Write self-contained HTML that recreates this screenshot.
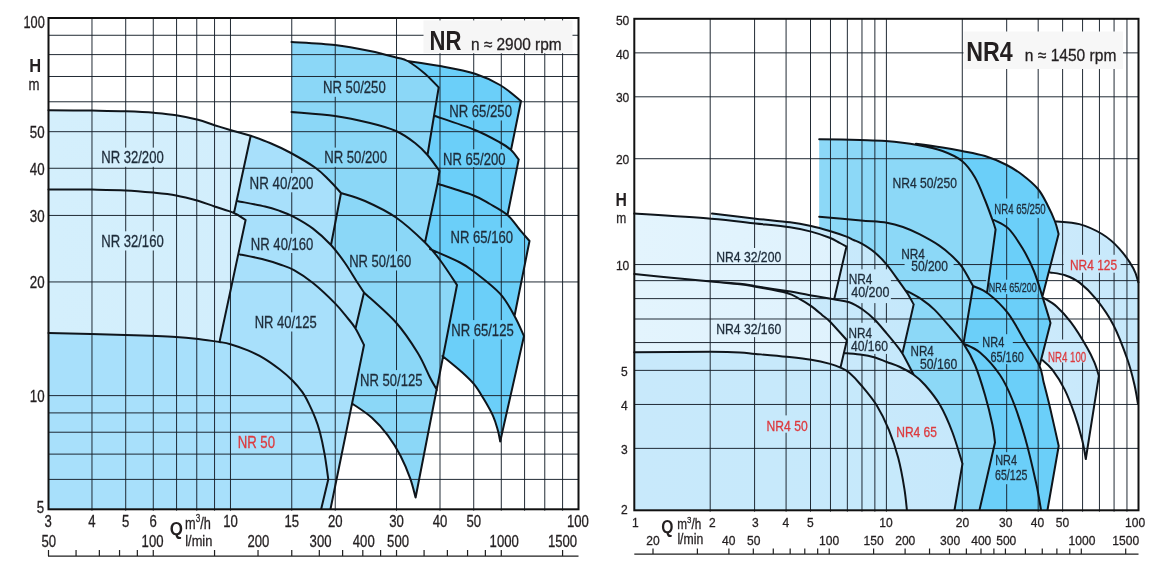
<!DOCTYPE html>
<html><head><meta charset="utf-8"><title>NR / NR4 pump coverage charts</title>
<style>
html,body{margin:0;padding:0;background:#fff;}
body{width:1157px;height:564px;overflow:hidden;}
svg{display:block;font-family:"Liberation Sans",sans-serif;}
</style></head><body>
<svg width="1157" height="564" viewBox="0 0 1157 564">
<rect width="1157" height="564" fill="#fff"/>
<g opacity="0.999">
<defs><linearGradient id="g32" gradientUnits="userSpaceOnUse" x1="48" y1="0" x2="250" y2="0"><stop offset="0" stop-color="#d4effc"/><stop offset="1" stop-color="#d2eefc"/></linearGradient></defs>
<g id="leftchart">
<path d="M400.0 58.0 L407.5 61.0 C412.9 61.8 428.8 63.9 440.0 66.0 C451.2 68.1 465.0 70.5 475.0 73.7 C485.0 76.9 492.3 80.5 500.0 85.0 C507.7 89.5 517.5 98.3 521.0 101.0 L511.0 150.0 C514.1 152.8 517.4 157.9 518.7 159.5 L507.5 215.0 C512.5 219.3 516.3 225.7 520.0 230.0 C523.7 234.3 527.9 239.2 529.5 241.0 L514.5 316.0 C518.5 323.1 522.4 332.7 524.0 336.0 L500.2 441.5 C499.8 439.7 499.1 434.7 497.9 430.5 C496.7 426.3 495.5 421.4 493.1 416.1 C490.7 410.8 486.7 403.9 483.5 398.6 C480.3 393.3 477.7 388.7 474.0 384.2 C470.3 379.7 466.4 376.2 461.2 371.5 C455.9 366.8 445.6 358.6 442.5 356.0 L400.0 300.0Z" fill="#6bcff9"/>
<path d="M291.5 42.0 L291.5 42.0 C298.8 42.5 321.9 43.5 335.0 45.0 C348.1 46.5 359.8 48.9 370.0 51.0 C380.2 53.1 389.8 55.8 396.0 57.5 C402.2 59.2 402.7 58.3 407.5 61.0 C412.3 63.7 419.8 69.3 425.0 73.7 C430.2 78.1 436.4 85.2 438.7 87.5 L427.5 155.0 C431.6 159.7 437.5 168.3 439.5 171.0 L437.5 183.7 L425.0 242.5 C432.3 249.6 434.7 252.9 440.0 260.0 C445.3 267.1 454.2 280.8 457.0 285.0 L415.6 497.5 C414.7 494.3 412.7 485.2 410.2 478.3 C407.7 471.4 404.3 463.2 400.6 456.0 C396.9 448.8 392.6 441.7 387.8 435.3 C383.0 428.9 377.8 423.0 371.9 417.7 C366.0 412.4 355.7 406.0 352.5 403.7 L300.0 300.0 L291.5 300.0Z" fill="#8bd7f7"/>
<path d="M48.5 509.3 L48.5 140.0 L250.7 135.7 C253.9 136.9 263.4 140.2 270.0 143.0 C276.6 145.8 282.5 148.4 290.0 152.5 C297.5 156.6 308.5 162.9 315.0 167.5 C321.5 172.1 324.7 175.8 329.0 180.0 C333.3 184.2 339.0 190.8 341.0 193.0 L331.0 245.0 C336.3 250.7 340.6 256.7 345.0 263.0 C349.4 269.3 354.5 278.1 357.7 283.0 C360.9 287.9 362.9 290.9 364.0 292.5 L355.5 328.5 C358.2 332.9 362.6 342.2 364.0 345.0 L330.5 509.3Z" fill="#a8e0fb"/>
<path d="M48.5 110.2 L48.5 110.2 C55.8 110.3 79.1 110.4 92.0 110.6 C104.9 110.8 115.4 110.9 125.7 111.3 C136.0 111.7 145.4 112.1 153.8 112.8 C162.2 113.5 168.8 114.0 176.2 115.2 C183.6 116.4 191.6 118.1 198.0 119.8 C204.4 121.5 209.0 123.5 214.5 125.2 C220.0 126.9 225.0 128.4 231.0 130.2 C237.0 131.9 247.4 134.8 250.7 135.7 L234.0 213.0 C239.2 215.2 243.7 218.8 245.6 220.0 L219.5 342.0 C214.4 341.2 207.2 340.0 200.0 339.2 C192.8 338.4 188.5 337.7 176.0 337.0 C163.5 336.3 146.2 335.7 125.0 335.0 C103.8 334.3 61.2 333.3 48.5 333.0Z" fill="url(#g32)"/>
<mask id="lmv" maskUnits="userSpaceOnUse" x="40" y="10" width="545" height="505"><rect x="40" y="10" width="545" height="505" fill="#fff"/><rect x="98.2" y="147.6" width="68.5" height="19.2" fill="#000"/><rect x="98.2" y="231.3" width="68.5" height="19.2" fill="#000"/><rect x="246.6" y="173.1" width="69.8" height="19.2" fill="#000"/><rect x="247.8" y="233.8" width="68.6" height="19.2" fill="#000"/><rect x="251.7" y="312.3" width="68.0" height="19.2" fill="#000"/><rect x="234.7" y="433.9" width="43.3" height="17.9" fill="#000"/><rect x="320.0" y="78.1" width="68.7" height="18.7" fill="#000"/><rect x="446.2" y="102.8" width="68.8" height="17.7" fill="#000"/><rect x="321.2" y="147.6" width="68.8" height="19.2" fill="#000"/><rect x="440.8" y="149.3" width="67.7" height="17.7" fill="#000"/><rect x="447.5" y="227.6" width="68.5" height="19.2" fill="#000"/><rect x="346.2" y="251.3" width="68.0" height="19.2" fill="#000"/><rect x="357.0" y="370.1" width="68.5" height="19.2" fill="#000"/><rect x="448.2" y="320.1" width="68.5" height="19.2" fill="#000"/></mask>
<mask id="lmh" maskUnits="userSpaceOnUse" x="40" y="10" width="545" height="505"><rect x="40" y="10" width="545" height="505" fill="#fff"/><rect x="98.2" y="147.6" width="68.5" height="19.2" fill="#000"/><rect x="98.2" y="231.3" width="68.5" height="19.2" fill="#000"/><rect x="246.6" y="173.1" width="69.8" height="19.2" fill="#000"/><rect x="247.8" y="233.8" width="68.6" height="19.2" fill="#000"/><rect x="251.7" y="312.3" width="68.0" height="19.2" fill="#000"/><rect x="234.7" y="433.9" width="43.3" height="17.9" fill="#000"/><rect x="320.0" y="78.1" width="68.7" height="18.7" fill="#000"/><rect x="446.2" y="102.8" width="68.8" height="17.7" fill="#000"/><rect x="321.2" y="147.6" width="68.8" height="19.2" fill="#000"/><rect x="440.8" y="149.3" width="67.7" height="17.7" fill="#000"/><rect x="447.5" y="227.6" width="68.5" height="19.2" fill="#000"/><rect x="346.2" y="251.3" width="68.0" height="19.2" fill="#000"/><rect x="357.0" y="370.1" width="68.5" height="19.2" fill="#000"/><rect x="448.2" y="320.1" width="68.5" height="19.2" fill="#000"/></mask>
<path d="M91.98 18.0V510.7M125.71 18.0V510.7M153.27 18.0V510.7M176.57 18.0V510.7M196.75 18.0V510.7M214.55 18.0V510.7M230.47 18.0V510.7M291.76 18.0V510.7M335.24 18.0V510.7M396.53 18.0V510.7M440.01 18.0V510.7M473.73 18.0V510.7M501.29 18.0V510.7M524.59 18.0V510.7M544.77 18.0V510.7M562.58 18.0V510.7" fill="none" stroke="#16202a" stroke-width="0.95" mask="url(#lmv)"/>
<path d="M48.5 479.40H578.5M48.5 454.12H578.5M48.5 432.22H578.5M48.5 412.90H578.5M48.5 395.62H578.5M48.5 281.95H578.5M48.5 215.45H578.5M48.5 168.27H578.5M48.5 131.68H578.5M48.5 101.78H578.5M48.5 76.49H578.5M48.5 54.60H578.5M48.5 35.28H578.5" fill="none" stroke="#16202a" stroke-width="0.95" mask="url(#lmh)"/>
<path d="M48.5 110.2 C55.8 110.3 79.1 110.4 92.0 110.6 C104.9 110.8 115.4 110.9 125.7 111.3 C136.0 111.7 145.4 112.1 153.8 112.8 C162.2 113.5 168.8 114.0 176.2 115.2 C183.6 116.4 191.6 118.1 198.0 119.8 C204.4 121.5 209.0 123.5 214.5 125.2 C220.0 126.9 225.0 128.4 231.0 130.2 C237.0 131.9 247.4 134.8 250.7 135.7M48.5 189.4 C55.8 189.4 79.1 189.4 92.0 189.6 C104.9 189.8 115.4 189.9 125.7 190.4 C136.0 190.9 145.4 191.8 153.8 192.6 C162.2 193.4 168.8 194.0 176.2 195.4 C183.6 196.8 191.6 199.0 198.0 200.8 C204.4 202.7 208.5 204.5 214.5 206.5 C220.5 208.5 228.8 210.8 234.0 213.0 C239.2 215.2 243.7 218.8 245.6 220.0M48.5 333.0 C61.2 333.3 103.8 334.3 125.0 335.0 C146.2 335.7 163.5 336.3 176.0 337.0 C188.5 337.7 192.8 338.4 200.0 339.2 C207.2 340.0 214.4 341.2 219.5 342.0 C224.6 342.8 225.7 342.8 230.4 344.2 C235.1 345.6 242.3 348.0 247.9 350.4 C253.5 352.8 258.6 355.1 263.9 358.3 C269.2 361.5 275.1 365.8 279.9 369.5 C284.7 373.2 289.0 377.0 292.7 380.7 C296.4 384.4 299.5 388.2 302.2 391.9 C304.9 395.6 306.5 398.9 308.6 403.1 C310.7 407.4 313.1 412.6 315.0 417.4 C316.9 422.2 318.2 425.7 319.8 431.8 C321.4 437.9 323.2 446.3 324.6 454.2 C326.0 462.1 327.7 475.1 328.3 479.3M250.7 135.7 C253.9 136.9 263.4 140.2 270.0 143.0 C276.6 145.8 282.5 148.4 290.0 152.5 C297.5 156.6 308.5 162.9 315.0 167.5 C321.5 172.1 324.7 175.8 329.0 180.0 C333.3 184.2 339.0 190.8 341.0 193.0M238.2 201.2 C242.7 202.1 258.0 204.9 265.0 206.5 C272.0 208.1 275.2 209.3 280.0 211.0 C284.8 212.7 288.3 213.9 293.8 216.8 C299.3 219.7 306.8 223.9 313.0 228.6 C319.2 233.3 325.7 239.3 331.0 245.0 C336.3 250.7 340.6 256.7 345.0 263.0 C349.4 269.3 354.5 278.1 357.7 283.0 C360.9 287.9 362.9 290.9 364.0 292.5M240.0 254.5 C243.7 255.2 255.3 257.3 262.0 259.0 C268.7 260.7 274.7 262.6 280.0 264.5 C285.3 266.4 288.5 267.1 294.0 270.2 C299.5 273.3 306.1 277.4 313.0 283.0 C319.9 288.6 329.5 297.7 335.3 303.6 C341.1 309.5 344.6 314.4 348.0 318.5 C351.4 322.6 352.8 324.1 355.5 328.5 C358.2 332.9 362.6 342.2 364.0 345.0M291.5 42.0 C298.8 42.5 321.9 43.5 335.0 45.0 C348.1 46.5 359.8 48.9 370.0 51.0 C380.2 53.1 389.8 55.8 396.0 57.5 C402.2 59.2 402.7 58.3 407.5 61.0 C412.3 63.7 419.8 69.3 425.0 73.7 C430.2 78.1 436.4 85.2 438.7 87.5M291.5 112.0 C298.8 112.7 321.9 114.2 335.0 116.0 C348.1 117.8 359.8 120.5 370.0 123.0 C380.2 125.5 388.5 127.7 396.0 131.0 C403.5 134.3 409.8 139.0 415.0 143.0 C420.2 147.0 423.4 150.3 427.5 155.0 C431.6 159.7 437.5 168.3 439.5 171.0M341.0 193.0 C345.0 194.3 355.8 196.9 365.0 201.0 C374.2 205.1 386.0 210.6 396.0 217.5 C406.0 224.4 417.7 235.4 425.0 242.5 C432.3 249.6 434.7 252.9 440.0 260.0 C445.3 267.1 454.2 280.8 457.0 285.0M364.0 292.5 C369.3 297.5 387.1 312.5 396.0 322.5 C404.9 332.5 411.8 343.3 417.5 352.5 C423.2 361.7 426.8 371.2 430.0 377.5 C433.2 383.8 435.8 387.9 437.0 390.0M352.5 403.7 C355.7 406.0 366.0 412.4 371.9 417.7 C377.8 423.0 383.0 428.9 387.8 435.3 C392.6 441.7 396.9 448.8 400.6 456.0 C404.3 463.2 407.7 471.4 410.2 478.3 C412.7 485.2 414.7 494.3 415.6 497.5M407.5 61.0 C412.9 61.8 428.8 63.9 440.0 66.0 C451.2 68.1 465.0 70.5 475.0 73.7 C485.0 76.9 492.3 80.5 500.0 85.0 C507.7 89.5 517.5 98.3 521.0 101.0M435.0 116.0 C441.7 118.3 464.2 125.6 475.0 130.0 C485.8 134.4 494.0 139.2 500.0 142.5 C506.0 145.8 507.9 147.2 511.0 150.0 C514.1 152.8 517.4 157.9 518.7 159.5M437.5 183.7 C443.3 185.6 463.8 191.6 472.5 195.0 C481.2 198.4 484.2 200.7 490.0 204.0 C495.8 207.3 502.5 210.7 507.5 215.0 C512.5 219.3 516.3 225.7 520.0 230.0 C523.7 234.3 527.9 239.2 529.5 241.0M430.0 249.0 C435.0 251.2 452.5 258.6 460.0 262.5 C467.5 266.4 468.3 267.3 475.0 272.5 C481.7 277.7 493.4 286.4 500.0 293.7 C506.6 300.9 510.5 308.9 514.5 316.0 C518.5 323.1 522.4 332.7 524.0 336.0M442.5 356.0 C445.6 358.6 455.9 366.8 461.2 371.5 C466.4 376.2 470.3 379.7 474.0 384.2 C477.7 388.7 480.3 393.3 483.5 398.6 C486.7 403.9 490.7 410.8 493.1 416.1 C495.5 421.4 496.7 426.3 497.9 430.5 C499.1 434.7 499.8 439.7 500.2 441.5M250.7 135.7 L234.0 213.0M245.6 220.0 L219.5 342.0M328.3 479.3 L321.2 509.0M341.0 193.0 L331.0 245.0M364.0 292.5 L355.5 328.5M364.0 345.0 L330.5 509.0M438.7 87.5 L427.5 155.0M439.5 171.0 L437.5 183.7M437.5 183.7 L425.0 242.5M457.0 285.0 L415.6 497.5M521.0 101.0 L511.0 150.0M518.7 159.5 L507.5 215.0M529.5 241.0 L514.5 316.0M524.0 336.0 L500.2 441.5" fill="none" stroke="#0f151b" stroke-width="2" stroke-linejoin="round" stroke-linecap="round"/>
<rect x="423.5" y="20.4" width="149" height="32.8" fill="#f6f6f6"/>
<text x="429.6" y="49.6" font-size="27.0" fill="#231f20" font-weight="bold" textLength="31.9" lengthAdjust="spacingAndGlyphs">NR</text>
<text x="470.9" y="49.6" font-size="16.5" fill="#231f20" font-weight="normal" textLength="90.8" lengthAdjust="spacingAndGlyphs" stroke="#231f20" stroke-width="0.3">n ≈ 2900 rpm</text>
<rect x="48.5" y="18.0" width="530.0" height="491.3" fill="none" stroke="#111" stroke-width="2"/>
<text x="101.2" y="163.3" font-size="16.3" fill="#1e2c3a" font-weight="normal" textLength="62.5" lengthAdjust="spacingAndGlyphs" stroke="#1e2c3a" stroke-width="0.3">NR 32/200</text>
<text x="101.2" y="247.0" font-size="16.3" fill="#1e2c3a" font-weight="normal" textLength="62.5" lengthAdjust="spacingAndGlyphs" stroke="#1e2c3a" stroke-width="0.3">NR 32/160</text>
<text x="249.6" y="188.8" font-size="16.3" fill="#1e2c3a" font-weight="normal" textLength="63.8" lengthAdjust="spacingAndGlyphs" stroke="#1e2c3a" stroke-width="0.3">NR 40/200</text>
<text x="250.8" y="249.5" font-size="16.3" fill="#1e2c3a" font-weight="normal" textLength="62.6" lengthAdjust="spacingAndGlyphs" stroke="#1e2c3a" stroke-width="0.3">NR 40/160</text>
<text x="254.7" y="328.0" font-size="16.3" fill="#1e2c3a" font-weight="normal" textLength="62.0" lengthAdjust="spacingAndGlyphs" stroke="#1e2c3a" stroke-width="0.3">NR 40/125</text>
<text x="237.7" y="448.3" font-size="16.3" fill="#dd3a3e" font-weight="normal" textLength="37.3" lengthAdjust="spacingAndGlyphs" stroke="#dd3a3e" stroke-width="0.3">NR 50</text>
<text x="323.0" y="93.3" font-size="16.3" fill="#1e2c3a" font-weight="normal" textLength="62.7" lengthAdjust="spacingAndGlyphs" stroke="#1e2c3a" stroke-width="0.3">NR 50/250</text>
<text x="449.2" y="117.0" font-size="16.3" fill="#1e2c3a" font-weight="normal" textLength="62.8" lengthAdjust="spacingAndGlyphs" stroke="#1e2c3a" stroke-width="0.3">NR 65/250</text>
<text x="324.2" y="163.3" font-size="16.3" fill="#1e2c3a" font-weight="normal" textLength="62.8" lengthAdjust="spacingAndGlyphs" stroke="#1e2c3a" stroke-width="0.3">NR 50/200</text>
<text x="443.0" y="165.0" font-size="16.3" fill="#1e2c3a" font-weight="normal" textLength="62.5" lengthAdjust="spacingAndGlyphs" stroke="#1e2c3a" stroke-width="0.3">NR 65/200</text>
<text x="450.5" y="243.3" font-size="16.3" fill="#1e2c3a" font-weight="normal" textLength="62.5" lengthAdjust="spacingAndGlyphs" stroke="#1e2c3a" stroke-width="0.3">NR 65/160</text>
<text x="349.2" y="267.0" font-size="16.3" fill="#1e2c3a" font-weight="normal" textLength="62.0" lengthAdjust="spacingAndGlyphs" stroke="#1e2c3a" stroke-width="0.3">NR 50/160</text>
<text x="360.0" y="385.8" font-size="16.3" fill="#1e2c3a" font-weight="normal" textLength="62.5" lengthAdjust="spacingAndGlyphs" stroke="#1e2c3a" stroke-width="0.3">NR 50/125</text>
<text x="451.2" y="335.8" font-size="16.3" fill="#1e2c3a" font-weight="normal" textLength="62.5" lengthAdjust="spacingAndGlyphs" stroke="#1e2c3a" stroke-width="0.3">NR 65/125</text>
<text x="23.5" y="27.6" font-size="15.7" fill="#231f20" font-weight="normal" textLength="21.3" lengthAdjust="spacingAndGlyphs" stroke="#231f20" stroke-width="0.3">100</text>
<text x="29.8" y="137.9" font-size="15.7" fill="#231f20" font-weight="normal" textLength="14.8" lengthAdjust="spacingAndGlyphs" stroke="#231f20" stroke-width="0.3">50</text>
<text x="29.8" y="174.5" font-size="15.7" fill="#231f20" font-weight="normal" textLength="14.8" lengthAdjust="spacingAndGlyphs" stroke="#231f20" stroke-width="0.3">40</text>
<text x="29.8" y="221.7" font-size="15.7" fill="#231f20" font-weight="normal" textLength="14.8" lengthAdjust="spacingAndGlyphs" stroke="#231f20" stroke-width="0.3">30</text>
<text x="29.8" y="288.1" font-size="15.7" fill="#231f20" font-weight="normal" textLength="14.8" lengthAdjust="spacingAndGlyphs" stroke="#231f20" stroke-width="0.3">20</text>
<text x="29.8" y="401.8" font-size="15.7" fill="#231f20" font-weight="normal" textLength="14.8" lengthAdjust="spacingAndGlyphs" stroke="#231f20" stroke-width="0.3">10</text>
<text x="36.8" y="513.0" font-size="15.7" fill="#231f20" font-weight="normal" textLength="7.4" lengthAdjust="spacingAndGlyphs" stroke="#231f20" stroke-width="0.3">5</text>
<text x="29.3" y="71.8" font-size="18.0" fill="#231f20" font-weight="bold" textLength="11.9" lengthAdjust="spacingAndGlyphs">H</text>
<text x="28.6" y="90.3" font-size="15.7" fill="#231f20" font-weight="normal" textLength="11.0" lengthAdjust="spacingAndGlyphs" stroke="#231f20" stroke-width="0.3">m</text>
<text x="44.4" y="526.7" font-size="15.7" fill="#231f20" font-weight="normal" textLength="7.3" lengthAdjust="spacingAndGlyphs" stroke="#231f20" stroke-width="0.3">3</text>
<text x="88.3" y="526.7" font-size="15.7" fill="#231f20" font-weight="normal" textLength="7.3" lengthAdjust="spacingAndGlyphs" stroke="#231f20" stroke-width="0.3">4</text>
<text x="122.1" y="526.7" font-size="15.7" fill="#231f20" font-weight="normal" textLength="7.3" lengthAdjust="spacingAndGlyphs" stroke="#231f20" stroke-width="0.3">5</text>
<text x="149.6" y="526.7" font-size="15.7" fill="#231f20" font-weight="normal" textLength="7.3" lengthAdjust="spacingAndGlyphs" stroke="#231f20" stroke-width="0.3">6</text>
<text x="223.2" y="526.7" font-size="15.7" fill="#231f20" font-weight="normal" textLength="14.6" lengthAdjust="spacingAndGlyphs" stroke="#231f20" stroke-width="0.3">10</text>
<text x="284.5" y="526.7" font-size="15.7" fill="#231f20" font-weight="normal" textLength="14.6" lengthAdjust="spacingAndGlyphs" stroke="#231f20" stroke-width="0.3">15</text>
<text x="327.9" y="526.7" font-size="15.7" fill="#231f20" font-weight="normal" textLength="14.6" lengthAdjust="spacingAndGlyphs" stroke="#231f20" stroke-width="0.3">20</text>
<text x="389.2" y="526.7" font-size="15.7" fill="#231f20" font-weight="normal" textLength="14.6" lengthAdjust="spacingAndGlyphs" stroke="#231f20" stroke-width="0.3">30</text>
<text x="432.7" y="526.7" font-size="15.7" fill="#231f20" font-weight="normal" textLength="14.6" lengthAdjust="spacingAndGlyphs" stroke="#231f20" stroke-width="0.3">40</text>
<text x="466.4" y="526.7" font-size="15.7" fill="#231f20" font-weight="normal" textLength="14.6" lengthAdjust="spacingAndGlyphs" stroke="#231f20" stroke-width="0.3">50</text>
<text x="567.0" y="526.7" font-size="15.7" fill="#231f20" font-weight="normal" textLength="21.9" lengthAdjust="spacingAndGlyphs" stroke="#231f20" stroke-width="0.3">100</text>
<text x="41.4" y="547.0" font-size="15.7" fill="#231f20" font-weight="normal" textLength="14.6" lengthAdjust="spacingAndGlyphs" stroke="#231f20" stroke-width="0.3">50</text>
<text x="141.6" y="547.0" font-size="15.7" fill="#231f20" font-weight="normal" textLength="21.9" lengthAdjust="spacingAndGlyphs" stroke="#231f20" stroke-width="0.3">100</text>
<text x="247.4" y="547.0" font-size="15.7" fill="#231f20" font-weight="normal" textLength="21.9" lengthAdjust="spacingAndGlyphs" stroke="#231f20" stroke-width="0.3">200</text>
<text x="309.6" y="547.0" font-size="15.7" fill="#231f20" font-weight="normal" textLength="21.9" lengthAdjust="spacingAndGlyphs" stroke="#231f20" stroke-width="0.3">300</text>
<text x="352.8" y="547.0" font-size="15.7" fill="#231f20" font-weight="normal" textLength="21.9" lengthAdjust="spacingAndGlyphs" stroke="#231f20" stroke-width="0.3">400</text>
<text x="387.1" y="547.0" font-size="15.7" fill="#231f20" font-weight="normal" textLength="21.9" lengthAdjust="spacingAndGlyphs" stroke="#231f20" stroke-width="0.3">500</text>
<text x="489.6" y="547.0" font-size="15.7" fill="#231f20" font-weight="normal" textLength="29.2" lengthAdjust="spacingAndGlyphs" stroke="#231f20" stroke-width="0.3">1000</text>
<text x="547.9" y="547.0" font-size="15.7" fill="#231f20" font-weight="normal" textLength="29.2" lengthAdjust="spacingAndGlyphs" stroke="#231f20" stroke-width="0.3">1500</text>
<text x="169.8" y="534.5" font-size="18.5" fill="#231f20" font-weight="bold" textLength="13.2" lengthAdjust="spacingAndGlyphs">Q</text>
<text x="185" y="528.6" font-size="16.5" fill="#231f20" stroke="#231f20" stroke-width="0.3" textLength="25.8" lengthAdjust="spacingAndGlyphs">m<tspan font-size="10.5" dy="-6.2">3</tspan><tspan dy="6.2">/h</tspan></text>
<text x="185.2" y="545.6" font-size="14.8" fill="#231f20" font-weight="normal" textLength="27.2" lengthAdjust="spacingAndGlyphs" stroke="#231f20" stroke-width="0.3">l/min</text>
<path d="M48.0 556.2H578.5M48.50 550V556.2M76.06 550V556.2M99.36 550V556.2M119.54 550V556.2M137.34 550V556.2M153.27 550V556.2M214.55 550V556.2M258.03 550V556.2M291.76 550V556.2M319.32 550V556.2M342.62 550V556.2M362.80 550V556.2M380.60 550V556.2M396.53 550V556.2M424.08 550V556.2M447.38 550V556.2M467.56 550V556.2M485.37 550V556.2M501.29 550V556.2M562.58 550V556.2" fill="none" stroke="#1f1f1f" stroke-width="1.2"/>
</g>
<defs><linearGradient id="r32" gradientUnits="userSpaceOnUse" x1="634" y1="0" x2="847" y2="0"><stop offset="0" stop-color="#e3f4fd"/><stop offset="1" stop-color="#dff2fd"/></linearGradient><linearGradient id="r40" gradientUnits="userSpaceOnUse" x1="760" y1="0" x2="913" y2="0"><stop offset="0" stop-color="#cbeafb"/><stop offset="1" stop-color="#c5e8fb"/></linearGradient><linearGradient id="r50r" gradientUnits="userSpaceOnUse" x1="634" y1="0" x2="906" y2="0"><stop offset="0" stop-color="#c8e9fb"/><stop offset="1" stop-color="#c6e9fb"/></linearGradient><linearGradient id="r65r" gradientUnits="userSpaceOnUse" x1="845" y1="0" x2="962" y2="0"><stop offset="0" stop-color="#c9e9fb"/><stop offset="1" stop-color="#c6e8fb"/></linearGradient><linearGradient id="r125" gradientUnits="userSpaceOnUse" x1="1050" y1="0" x2="1138" y2="0"><stop offset="0" stop-color="#cceafb"/><stop offset="1" stop-color="#c6e8fb"/></linearGradient><linearGradient id="r100" gradientUnits="userSpaceOnUse" x1="1042" y1="0" x2="1099" y2="0"><stop offset="0" stop-color="#cceafb"/><stop offset="1" stop-color="#c7e8fb"/></linearGradient></defs>
<g id="rightchart">
<path d="M1055.2 221.3 L1055.2 221.3 C1059.2 221.8 1071.5 222.0 1079.3 224.1 C1087.1 226.2 1095.4 230.0 1102.0 234.0 C1108.6 238.0 1113.8 242.6 1119.0 248.3 C1124.2 254.0 1130.1 262.5 1133.3 268.2 C1136.5 273.9 1137.6 280.0 1138.4 282.4 L1138.5 404.0 L1138.0 404.0 C1137.4 400.8 1136.2 392.3 1134.5 385.0 C1132.8 377.7 1131.1 370.0 1127.6 360.0 C1124.1 350.0 1118.6 335.1 1113.4 325.0 C1108.2 314.9 1102.1 306.5 1096.4 299.4 C1090.7 292.3 1084.5 286.4 1079.3 282.4 C1074.1 278.4 1069.9 277.0 1065.1 275.3 C1060.3 273.6 1052.8 272.9 1050.3 272.4Z" fill="url(#r125)"/>
<path d="M1043.8 298.0 L1043.8 298.0 C1045.9 299.4 1052.1 302.5 1056.6 306.5 C1061.1 310.5 1065.7 315.4 1070.8 322.2 C1075.9 329.0 1083.1 340.7 1087.0 347.4 C1090.9 354.1 1092.4 357.6 1094.4 362.3 C1096.4 367.1 1098.2 373.6 1098.9 375.9 L1085.8 459.0 C1085.2 455.7 1083.9 446.6 1082.0 439.2 C1080.1 431.8 1077.5 422.7 1074.6 414.4 C1071.7 406.1 1068.4 397.1 1064.7 389.6 C1061.0 382.2 1056.0 374.6 1052.3 369.7 C1048.6 364.8 1044.0 361.6 1042.3 360.0Z" fill="url(#r100)"/>
<path d="M916.0 143.7 L916.0 143.7 C920.4 144.3 934.8 146.3 942.5 147.5 C950.2 148.7 954.9 149.6 962.0 151.0 C969.1 152.4 977.5 153.7 985.0 156.0 C992.5 158.3 1000.5 161.8 1006.7 165.0 C1013.0 168.2 1017.3 171.0 1022.5 175.0 C1027.7 179.0 1033.8 184.0 1038.0 189.0 C1042.2 194.0 1044.7 199.6 1047.5 205.0 C1050.3 210.4 1053.2 216.7 1055.0 221.5 C1056.8 226.3 1058.0 231.9 1058.6 234.0 L1042.4 296.6 C1045.2 305.3 1049.2 318.6 1050.5 323.0 L1039.5 366.0 C1042.6 372.8 1042.0 375.6 1043.7 382.5 C1045.5 389.4 1047.5 396.9 1050.0 407.5 C1052.5 418.1 1057.2 439.6 1058.7 446.0 L1047.5 510.3 L960.0 510.3 L960.0 200.0Z" fill="#6bcff9"/>
<path d="M819.2 139.2 L819.2 139.2 C826.0 139.3 848.9 139.7 860.0 140.0 C871.1 140.3 876.1 140.2 885.7 141.0 C895.3 141.8 908.0 143.3 917.5 145.0 C927.0 146.7 935.1 148.3 942.5 151.0 C949.9 153.7 956.6 156.6 962.0 161.0 C967.4 165.4 971.2 171.0 975.0 177.5 C978.8 184.0 982.1 192.9 985.0 200.0 C987.9 207.1 990.7 215.1 992.5 220.0 C994.3 224.9 995.1 227.9 995.6 229.5 L987.0 293.0 L988.4 293.7 C982.5 289.1 975.6 287.3 973.1 286.0 L963.5 343.6 C967.7 349.9 971.4 356.4 975.0 365.0 C978.6 373.6 982.1 385.0 985.0 395.0 C987.9 405.0 990.8 417.1 992.5 425.0 C994.2 432.9 994.6 439.6 995.0 442.5 L979.5 510.3 L870.0 510.3 L870.0 262.0 L819.2 232.0Z" fill="#8cd8f7"/>
<path d="M840.5 367.6 L844.4 353.0 C847.0 353.2 854.9 353.8 860.0 354.5 C865.1 355.2 870.5 356.2 875.0 357.5 C879.5 358.8 882.6 360.4 886.8 362.0 C891.0 363.6 895.5 364.9 900.0 367.0 C904.5 369.1 909.5 371.8 913.7 374.8 C917.9 377.8 920.6 380.0 925.0 385.0 C929.4 390.0 935.4 397.1 940.0 405.0 C944.6 412.9 948.8 422.7 952.5 432.5 C956.2 442.3 960.8 458.5 962.5 463.7 L954.5 510.3 L840.5 510.3Z" fill="url(#r65r)"/>
<path d="M634.3 352.3 L634.3 352.3 C647.1 352.2 693.4 351.8 711.0 351.8 C728.6 351.8 732.6 352.0 740.0 352.4 C747.4 352.8 747.8 353.2 755.6 353.9 C763.4 354.6 777.5 355.8 786.8 356.8 C796.1 357.8 804.0 358.6 811.2 359.8 C818.4 361.0 825.2 362.6 830.1 363.9 C835.0 365.2 837.3 366.1 840.5 367.6 C843.7 369.1 845.9 369.9 849.3 372.8 C852.7 375.7 856.5 379.6 861.0 385.0 C865.5 390.4 871.9 397.6 876.5 405.1 C881.1 412.6 885.3 421.1 888.9 429.9 C892.5 438.7 895.6 448.0 898.2 457.8 C900.8 467.6 903.0 480.1 904.4 488.8 C905.8 497.5 906.5 506.5 906.9 510.0 L634.3 510.3Z" fill="url(#r50r)"/>
<path d="M712.0 213.6 L712.0 213.6 C719.3 214.4 742.7 217.2 755.7 218.7 C768.7 220.1 780.8 221.1 790.0 222.3 C799.2 223.5 804.4 224.6 811.0 226.0 C817.6 227.4 823.8 229.2 829.7 231.0 C835.6 232.8 842.5 235.1 846.5 236.6 C850.5 238.1 851.1 238.9 853.6 240.0 C856.1 241.1 857.8 241.4 861.3 243.4 C864.8 245.4 870.3 248.7 874.5 252.2 C878.7 255.7 882.3 259.3 886.5 264.3 C890.7 269.3 896.2 277.4 899.6 282.2 C903.0 286.9 904.6 289.1 907.0 292.8 C909.4 296.5 912.6 302.5 913.7 304.4 L902.4 353.5 C905.5 358.7 911.8 371.2 913.7 374.8 L913.7 374.8 C909.5 371.8 904.5 369.1 900.0 367.0 C895.5 364.9 891.0 363.6 886.8 362.0 C882.6 360.4 879.5 358.8 875.0 357.5 C870.5 356.2 865.1 355.2 860.0 354.5 C854.9 353.8 847.0 353.2 844.4 353.0 L711.0 330.0Z" fill="url(#r40)"/>
<path d="M634.3 213.6 L634.3 213.6 C647.1 214.4 690.8 217.0 711.0 218.7 C731.2 220.3 742.5 222.1 755.7 223.5 C768.9 224.9 780.8 226.0 790.0 227.3 C799.2 228.7 804.5 229.8 811.1 231.6 C817.7 233.3 825.0 235.9 829.7 237.8 C834.5 239.7 836.8 241.4 839.6 242.8 C842.4 244.2 845.4 245.9 846.5 246.5 L833.7 299.3 C827.4 298.2 819.0 296.8 811.2 295.4 C803.4 294.0 796.1 292.6 786.8 291.1 C777.5 289.6 763.4 287.4 755.6 286.2 L755.6 286.8 C763.4 288.3 779.6 291.1 786.8 293.0 C793.9 294.9 794.4 296.1 798.5 298.3 C802.6 300.5 807.3 303.3 811.2 306.1 C815.1 308.9 818.9 312.3 822.0 314.9 C825.1 317.5 826.0 317.5 830.1 321.7 C834.2 325.9 844.1 337.1 846.9 340.2 L840.5 367.6 C837.3 366.1 835.0 365.2 830.1 363.9 C825.2 362.6 818.4 361.0 811.2 359.8 C804.0 358.6 796.1 357.8 786.8 356.8 C777.5 355.8 763.4 354.6 755.6 353.9 C747.8 353.2 747.4 352.8 740.0 352.4 C732.6 352.0 728.6 351.8 711.0 351.8 C693.4 351.8 647.1 352.2 634.3 352.3Z" fill="url(#r32)"/>
<mask id="rmv" maskUnits="userSpaceOnUse" x="625" y="10" width="520" height="505"><rect x="625" y="10" width="520" height="505" fill="#fff"/><rect x="713.2" y="248.0" width="71.0" height="15.6" fill="#000"/><rect x="713.2" y="319.9" width="71.0" height="17.2" fill="#000"/><rect x="848.2" y="269.3" width="42.7" height="20.8" fill="#000"/><rect x="848.2" y="282.5" width="42.7" height="20.6" fill="#000"/><rect x="848.2" y="322.8" width="42.1" height="21.1" fill="#000"/><rect x="848.2" y="336.5" width="42.1" height="17.4" fill="#000"/><rect x="909.5" y="343.2" width="25.3" height="13.6" fill="#000"/><rect x="919.0" y="356.1" width="39.3" height="13.6" fill="#000"/><rect x="978.6" y="334.2" width="34.2" height="15.1" fill="#000"/><rect x="987.5" y="349.0" width="39.2" height="15.1" fill="#000"/><rect x="1045.0" y="339.5" width="44.2" height="22.9" fill="#000"/><rect x="893.2" y="423.0" width="46.8" height="17.9" fill="#000"/><rect x="763.6" y="415.4" width="46.1" height="17.3" fill="#000"/><rect x="992.2" y="452.2" width="27.8" height="16.1" fill="#000"/><rect x="992.0" y="466.3" width="38.5" height="17.9" fill="#000"/><rect x="889.5" y="173.5" width="70.5" height="17.9" fill="#000"/><rect x="991.2" y="198.5" width="57.5" height="19.4" fill="#000"/><rect x="899.2" y="245.5" width="27.8" height="15.1" fill="#000"/><rect x="904.6" y="257.8" width="49.0" height="15.1" fill="#000"/><rect x="986.2" y="279.7" width="51.5" height="14.4" fill="#000"/><rect x="1063.7" y="254.8" width="56.9" height="17.9" fill="#000"/></mask>
<mask id="rmh" maskUnits="userSpaceOnUse" x="625" y="10" width="520" height="505"><rect x="625" y="10" width="520" height="505" fill="#fff"/><rect x="713.2" y="248.0" width="71.0" height="15.6" fill="#000"/><rect x="713.2" y="319.9" width="71.0" height="17.2" fill="#000"/><rect x="848.2" y="269.3" width="42.7" height="20.8" fill="#000"/><rect x="848.2" y="282.5" width="42.7" height="20.6" fill="#000"/><rect x="848.2" y="322.8" width="42.1" height="21.1" fill="#000"/><rect x="848.2" y="336.5" width="42.1" height="17.4" fill="#000"/><rect x="909.5" y="343.2" width="25.3" height="13.6" fill="#000"/><rect x="919.0" y="356.1" width="39.3" height="13.6" fill="#000"/><rect x="978.6" y="334.2" width="34.2" height="15.1" fill="#000"/><rect x="987.5" y="349.0" width="39.2" height="15.1" fill="#000"/><rect x="1045.0" y="347.5" width="44.2" height="16.6" fill="#000"/><rect x="893.2" y="423.0" width="46.8" height="17.9" fill="#000"/><rect x="763.6" y="415.4" width="46.1" height="17.3" fill="#000"/><rect x="992.2" y="452.2" width="27.8" height="16.1" fill="#000"/><rect x="992.0" y="466.3" width="38.5" height="17.9" fill="#000"/><rect x="889.5" y="173.5" width="70.5" height="17.9" fill="#000"/><rect x="991.2" y="198.5" width="57.5" height="19.4" fill="#000"/><rect x="899.2" y="245.5" width="27.8" height="15.1" fill="#000"/><rect x="904.6" y="257.8" width="49.0" height="15.1" fill="#000"/><rect x="986.2" y="279.7" width="51.5" height="14.4" fill="#000"/><rect x="1063.7" y="254.8" width="56.9" height="17.9" fill="#000"/></mask>
<path d="M710.19 18.8V511.7M754.58 18.8V511.7M786.08 18.8V511.7M810.51 18.8V511.7M830.47 18.8V511.7M847.35 18.8V511.7M861.97 18.8V511.7M874.86 18.8V511.7M886.40 18.8V511.7M962.29 18.8V511.7M1006.68 18.8V511.7M1038.18 18.8V511.7M1062.61 18.8V511.7M1082.57 18.8V511.7M1099.45 18.8V511.7M1114.07 18.8V511.7M1126.96 18.8V511.7" fill="none" stroke="#16202a" stroke-width="0.95" mask="url(#rmv)"/>
<path d="M634.3 448.39H1138.5M634.3 404.46H1138.5M634.3 370.39H1138.5M634.3 342.55H1138.5M634.3 319.01H1138.5M634.3 298.62H1138.5M634.3 280.64H1138.5M634.3 264.55H1138.5M634.3 158.71H1138.5M634.3 96.80H1138.5M634.3 52.87H1138.5" fill="none" stroke="#16202a" stroke-width="0.95" mask="url(#rmh)"/>
<path d="M819.2 139.2 C826.0 139.3 848.9 139.7 860.0 140.0 C871.1 140.3 876.1 140.2 885.7 141.0 C895.3 141.8 908.0 143.3 917.5 145.0 C927.0 146.7 935.1 148.3 942.5 151.0 C949.9 153.7 956.6 156.6 962.0 161.0 C967.4 165.4 971.2 171.0 975.0 177.5 C978.8 184.0 982.1 192.9 985.0 200.0 C987.9 207.1 990.7 215.1 992.5 220.0 C994.3 224.9 995.1 227.9 995.6 229.5M819.2 216.7 C826.2 217.3 849.7 219.5 861.0 220.5 C872.3 221.5 879.8 221.7 886.8 222.8 C893.8 223.9 897.6 225.1 903.0 227.0 C908.4 228.9 913.4 231.1 919.4 234.2 C925.4 237.3 933.9 242.0 939.3 245.6 C944.7 249.2 948.2 252.4 952.0 256.0 C955.8 259.6 958.5 261.9 962.0 266.9 C965.5 271.9 971.2 282.8 973.1 286.0M916.0 143.7 C920.4 144.3 934.8 146.3 942.5 147.5 C950.2 148.7 954.9 149.6 962.0 151.0 C969.1 152.4 977.5 153.7 985.0 156.0 C992.5 158.3 1000.5 161.8 1006.7 165.0 C1013.0 168.2 1017.3 171.0 1022.5 175.0 C1027.7 179.0 1033.8 184.0 1038.0 189.0 C1042.2 194.0 1044.7 199.6 1047.5 205.0 C1050.3 210.4 1053.2 216.7 1055.0 221.5 C1056.8 226.3 1058.0 231.9 1058.6 234.0M994.0 220.0 C996.4 221.4 1003.5 223.7 1008.3 228.4 C1013.0 233.1 1018.2 241.2 1022.5 248.3 C1026.8 255.4 1030.6 262.9 1033.9 271.0 C1037.2 279.1 1039.6 287.9 1042.4 296.6 C1045.2 305.3 1049.2 318.6 1050.5 323.0M973.1 286.0 C975.6 287.3 982.5 289.1 988.4 293.7 C994.3 298.3 1002.1 305.6 1008.3 313.6 C1014.4 321.7 1020.1 333.3 1025.3 342.0 C1030.5 350.7 1036.4 359.2 1039.5 366.0 C1042.6 372.8 1042.0 375.6 1043.7 382.5 C1045.5 389.4 1047.5 396.9 1050.0 407.5 C1052.5 418.1 1057.2 439.6 1058.7 446.0M905.0 290.0 C907.8 291.6 917.1 296.3 922.0 299.6 C926.9 302.9 929.7 305.0 934.4 309.6 C939.1 314.2 945.1 321.3 950.0 327.0 C954.9 332.7 959.3 337.3 963.5 343.6 C967.7 349.9 971.4 356.4 975.0 365.0 C978.6 373.6 982.1 385.0 985.0 395.0 C987.9 405.0 990.8 417.1 992.5 425.0 C994.2 432.9 994.6 439.6 995.0 442.5M963.5 343.6 C966.2 345.1 973.9 347.3 980.0 352.5 C986.1 357.7 994.6 367.1 1000.0 375.0 C1005.4 382.9 1008.3 389.6 1012.5 400.0 C1016.7 410.4 1021.1 423.8 1025.0 437.5 C1028.9 451.2 1033.3 470.4 1036.0 482.5 C1038.7 494.6 1040.2 505.4 1041.0 510.0M844.4 353.0 C847.0 353.2 854.9 353.8 860.0 354.5 C865.1 355.2 870.5 356.2 875.0 357.5 C879.5 358.8 882.6 360.4 886.8 362.0 C891.0 363.6 895.5 364.9 900.0 367.0 C904.5 369.1 909.5 371.8 913.7 374.8 C917.9 377.8 920.6 380.0 925.0 385.0 C929.4 390.0 935.4 397.1 940.0 405.0 C944.6 412.9 948.8 422.7 952.5 432.5 C956.2 442.3 960.8 458.5 962.5 463.7M634.3 352.3 C647.1 352.2 693.4 351.8 711.0 351.8 C728.6 351.8 732.6 352.0 740.0 352.4 C747.4 352.8 747.8 353.2 755.6 353.9 C763.4 354.6 777.5 355.8 786.8 356.8 C796.1 357.8 804.0 358.6 811.2 359.8 C818.4 361.0 825.2 362.6 830.1 363.9 C835.0 365.2 837.3 366.1 840.5 367.6 C843.7 369.1 845.9 369.9 849.3 372.8 C852.7 375.7 856.5 379.6 861.0 385.0 C865.5 390.4 871.9 397.6 876.5 405.1 C881.1 412.6 885.3 421.1 888.9 429.9 C892.5 438.7 895.6 448.0 898.2 457.8 C900.8 467.6 903.0 480.1 904.4 488.8 C905.8 497.5 906.5 506.5 906.9 510.0M634.3 213.6 C647.1 214.4 690.8 217.0 711.0 218.7 C731.2 220.3 742.5 222.1 755.7 223.5 C768.9 224.9 780.8 226.0 790.0 227.3 C799.2 228.7 804.5 229.8 811.1 231.6 C817.7 233.3 825.0 235.9 829.7 237.8 C834.5 239.7 836.8 241.4 839.6 242.8 C842.4 244.2 845.4 245.9 846.5 246.5M712.0 213.6 C719.3 214.4 742.7 217.2 755.7 218.7 C768.7 220.1 780.8 221.1 790.0 222.3 C799.2 223.5 804.4 224.6 811.0 226.0 C817.6 227.4 823.8 229.2 829.7 231.0 C835.6 232.8 842.5 235.1 846.5 236.6 C850.5 238.1 851.1 238.9 853.6 240.0 C856.1 241.1 857.8 241.4 861.3 243.4 C864.8 245.4 870.3 248.7 874.5 252.2 C878.7 255.7 882.3 259.3 886.5 264.3 C890.7 269.3 896.2 277.4 899.6 282.2 C903.0 286.9 904.6 289.1 907.0 292.8 C909.4 296.5 912.6 302.5 913.7 304.4M634.3 273.9 C640.5 274.5 658.5 276.5 671.3 277.8 C684.1 279.1 699.5 280.4 711.0 281.5 C722.5 282.6 732.6 283.3 740.0 284.2 C747.4 285.1 747.8 285.3 755.6 286.8 C763.4 288.3 779.6 291.1 786.8 293.0 C793.9 294.9 794.4 296.1 798.5 298.3 C802.6 300.5 807.3 303.3 811.2 306.1 C815.1 308.9 818.9 312.3 822.0 314.9 C825.1 317.5 826.0 317.5 830.1 321.7 C834.2 325.9 844.1 337.1 846.9 340.2M711.0 281.3 C715.8 281.7 732.6 283.0 740.0 283.8 C747.4 284.6 747.8 285.0 755.6 286.2 C763.4 287.4 777.5 289.6 786.8 291.1 C796.1 292.6 803.4 294.0 811.2 295.4 C819.0 296.8 827.4 298.2 833.7 299.3 C840.1 300.4 844.5 300.5 849.3 302.2 C854.1 303.9 858.3 306.5 862.6 309.5 C866.9 312.5 871.0 316.0 875.0 320.0 C879.0 324.0 883.5 329.7 886.8 333.6 C890.1 337.5 892.4 340.2 895.0 343.5 C897.6 346.8 899.3 348.3 902.4 353.5 C905.5 358.7 911.8 371.2 913.7 374.8M1055.2 221.3 C1059.2 221.8 1071.5 222.0 1079.3 224.1 C1087.1 226.2 1095.4 230.0 1102.0 234.0 C1108.6 238.0 1113.8 242.6 1119.0 248.3 C1124.2 254.0 1130.1 262.5 1133.3 268.2 C1136.5 273.9 1137.6 280.0 1138.4 282.4M1050.3 272.4 C1052.8 272.9 1060.3 273.6 1065.1 275.3 C1069.9 277.0 1074.1 278.4 1079.3 282.4 C1084.5 286.4 1090.7 292.3 1096.4 299.4 C1102.1 306.5 1108.2 314.9 1113.4 325.0 C1118.6 335.1 1124.1 350.0 1127.6 360.0 C1131.1 370.0 1132.8 377.7 1134.5 385.0 C1136.2 392.3 1137.4 400.8 1138.0 404.0M1043.8 298.0 C1045.9 299.4 1052.1 302.5 1056.6 306.5 C1061.1 310.5 1065.7 315.4 1070.8 322.2 C1075.9 329.0 1083.1 340.7 1087.0 347.4 C1090.9 354.1 1092.4 357.6 1094.4 362.3 C1096.4 367.1 1098.2 373.6 1098.9 375.9M1042.3 360.0 C1044.0 361.6 1048.6 364.8 1052.3 369.7 C1056.0 374.6 1061.0 382.2 1064.7 389.6 C1068.4 397.1 1071.7 406.1 1074.6 414.4 C1077.5 422.7 1080.1 431.8 1082.0 439.2 C1083.9 446.6 1085.2 455.7 1085.8 459.0M995.6 229.5 L987.0 293.0M973.1 286.0 L963.5 343.6M1058.6 234.0 L1042.4 296.6M1050.5 323.0 L1039.5 366.0M1058.7 446.0 L1047.5 510.0M995.0 442.5 L979.5 510.0M962.5 463.7 L954.5 510.0M846.5 246.5 L834.2 299.3M913.7 304.4 L902.4 353.5M846.9 340.2 L840.5 367.6M1098.9 375.9 L1085.8 459.0" fill="none" stroke="#0f151b" stroke-width="2" stroke-linejoin="round" stroke-linecap="round"/>
<rect x="963.5" y="31.5" width="159.5" height="37.5" fill="#f7f7f7"/>
<text x="966.3" y="60.7" font-size="27.0" fill="#231f20" font-weight="bold" textLength="46.5" lengthAdjust="spacingAndGlyphs">NR4</text>
<text x="1024.8" y="60.7" font-size="17.0" fill="#231f20" font-weight="normal" textLength="91.6" lengthAdjust="spacingAndGlyphs" stroke="#231f20" stroke-width="0.3">n ≈ 1450 rpm</text>
<rect x="634.3" y="18.8" width="504.2" height="491.5" fill="none" stroke="#111" stroke-width="2"/>
<text x="716.2" y="262.4" font-size="14.4" fill="#1e2c3a" font-weight="normal" textLength="65.0" lengthAdjust="spacingAndGlyphs" stroke="#1e2c3a" stroke-width="0.3">NR4 32/200</text>
<text x="716.2" y="333.6" font-size="14.4" fill="#1e2c3a" font-weight="normal" textLength="65.0" lengthAdjust="spacingAndGlyphs" stroke="#1e2c3a" stroke-width="0.3">NR4 32/160</text>
<text x="848.7" y="284.1" font-size="14.4" fill="#1e2c3a" font-weight="normal" textLength="23.8" lengthAdjust="spacingAndGlyphs" stroke="#1e2c3a" stroke-width="0.3">NR4</text>
<text x="851.2" y="296.6" font-size="14.4" fill="#1e2c3a" font-weight="normal" textLength="38.3" lengthAdjust="spacingAndGlyphs" stroke="#1e2c3a" stroke-width="0.3">40/200</text>
<text x="848.5" y="337.9" font-size="14.4" fill="#1e2c3a" font-weight="normal" textLength="23.5" lengthAdjust="spacingAndGlyphs" stroke="#1e2c3a" stroke-width="0.3">NR4</text>
<text x="851.0" y="350.6" font-size="14.4" fill="#1e2c3a" font-weight="normal" textLength="37.0" lengthAdjust="spacingAndGlyphs" stroke="#1e2c3a" stroke-width="0.3">40/160</text>
<text x="910.5" y="355.8" font-size="14.4" fill="#1e2c3a" font-weight="normal" textLength="23.3" lengthAdjust="spacingAndGlyphs" stroke="#1e2c3a" stroke-width="0.3">NR4</text>
<text x="920.0" y="368.7" font-size="14.4" fill="#1e2c3a" font-weight="normal" textLength="37.3" lengthAdjust="spacingAndGlyphs" stroke="#1e2c3a" stroke-width="0.3">50/160</text>
<text x="982.3" y="347.3" font-size="14.4" fill="#1e2c3a" font-weight="normal" textLength="22.0" lengthAdjust="spacingAndGlyphs" stroke="#1e2c3a" stroke-width="0.3">NR4</text>
<text x="990.5" y="362.1" font-size="14.4" fill="#1e2c3a" font-weight="normal" textLength="33.2" lengthAdjust="spacingAndGlyphs" stroke="#1e2c3a" stroke-width="0.3">65/160</text>
<text x="1048.0" y="361.6" font-size="14.4" fill="#dd3a3e" font-weight="normal" textLength="38.2" lengthAdjust="spacingAndGlyphs" stroke="#dd3a3e" stroke-width="0.3">NR4 100</text>
<text x="896.2" y="437.4" font-size="14.4" fill="#dd3a3e" font-weight="normal" textLength="40.8" lengthAdjust="spacingAndGlyphs" stroke="#dd3a3e" stroke-width="0.3">NR4 65</text>
<text x="766.6" y="431.2" font-size="14.6" fill="#dd3a3e" font-weight="normal" textLength="41.1" lengthAdjust="spacingAndGlyphs" stroke="#dd3a3e" stroke-width="0.3">NR4 50</text>
<text x="995.2" y="465.3" font-size="14.4" fill="#1e2c3a" font-weight="normal" textLength="21.8" lengthAdjust="spacingAndGlyphs" stroke="#1e2c3a" stroke-width="0.3">NR4</text>
<text x="995.0" y="480.4" font-size="14.4" fill="#1e2c3a" font-weight="normal" textLength="32.5" lengthAdjust="spacingAndGlyphs" stroke="#1e2c3a" stroke-width="0.3">65/125</text>
<text x="892.5" y="187.9" font-size="14.4" fill="#1e2c3a" font-weight="normal" textLength="64.5" lengthAdjust="spacingAndGlyphs" stroke="#1e2c3a" stroke-width="0.3">NR4 50/250</text>
<text x="994.2" y="214.1" font-size="14.4" fill="#1e2c3a" font-weight="normal" textLength="51.5" lengthAdjust="spacingAndGlyphs" stroke="#1e2c3a" stroke-width="0.3">NR4 65/250</text>
<text x="901.2" y="258.6" font-size="14.4" fill="#1e2c3a" font-weight="normal" textLength="23.8" lengthAdjust="spacingAndGlyphs" stroke="#1e2c3a" stroke-width="0.3">NR4</text>
<text x="911.2" y="270.9" font-size="14.4" fill="#1e2c3a" font-weight="normal" textLength="36.8" lengthAdjust="spacingAndGlyphs" stroke="#1e2c3a" stroke-width="0.3">50/200</text>
<text x="988.7" y="292.1" font-size="12.6" fill="#1e2c3a" font-weight="normal" textLength="48.0" lengthAdjust="spacingAndGlyphs" stroke="#1e2c3a" stroke-width="0.3">NR4 65/200</text>
<text x="1070.0" y="270.4" font-size="14.4" fill="#dd3a3e" font-weight="normal" textLength="47.0" lengthAdjust="spacingAndGlyphs" stroke="#dd3a3e" stroke-width="0.3">NR4 125</text>
<text x="615.9" y="25.4" font-size="13.4" fill="#231f20" font-weight="normal" textLength="13.4" lengthAdjust="spacingAndGlyphs" stroke="#231f20" stroke-width="0.3">50</text>
<text x="615.9" y="58.9" font-size="13.4" fill="#231f20" font-weight="normal" textLength="13.4" lengthAdjust="spacingAndGlyphs" stroke="#231f20" stroke-width="0.3">40</text>
<text x="615.9" y="102.3" font-size="13.4" fill="#231f20" font-weight="normal" textLength="13.4" lengthAdjust="spacingAndGlyphs" stroke="#231f20" stroke-width="0.3">30</text>
<text x="615.9" y="164.0" font-size="13.4" fill="#231f20" font-weight="normal" textLength="13.4" lengthAdjust="spacingAndGlyphs" stroke="#231f20" stroke-width="0.3">20</text>
<text x="615.9" y="269.6" font-size="13.4" fill="#231f20" font-weight="normal" textLength="13.4" lengthAdjust="spacingAndGlyphs" stroke="#231f20" stroke-width="0.3">10</text>
<text x="620.9" y="375.8" font-size="13.4" fill="#231f20" font-weight="normal" textLength="6.7" lengthAdjust="spacingAndGlyphs" stroke="#231f20" stroke-width="0.3">5</text>
<text x="620.9" y="409.7" font-size="13.4" fill="#231f20" font-weight="normal" textLength="6.7" lengthAdjust="spacingAndGlyphs" stroke="#231f20" stroke-width="0.3">4</text>
<text x="620.9" y="453.6" font-size="13.4" fill="#231f20" font-weight="normal" textLength="6.7" lengthAdjust="spacingAndGlyphs" stroke="#231f20" stroke-width="0.3">3</text>
<text x="620.9" y="514.3" font-size="13.4" fill="#231f20" font-weight="normal" textLength="6.7" lengthAdjust="spacingAndGlyphs" stroke="#231f20" stroke-width="0.3">2</text>
<text x="615.6" y="206.3" font-size="18.0" fill="#231f20" font-weight="bold" textLength="11.4" lengthAdjust="spacingAndGlyphs">H</text>
<text x="616.2" y="223.3" font-size="14.3" fill="#231f20" font-weight="normal" textLength="10.0" lengthAdjust="spacingAndGlyphs" stroke="#231f20" stroke-width="0.3">m</text>
<text x="632.1" y="526.6" font-size="13.3" fill="#231f20" font-weight="normal" textLength="6.7" lengthAdjust="spacingAndGlyphs" stroke="#231f20" stroke-width="0.3">1</text>
<text x="708.9" y="526.6" font-size="13.3" fill="#231f20" font-weight="normal" textLength="6.7" lengthAdjust="spacingAndGlyphs" stroke="#231f20" stroke-width="0.3">2</text>
<text x="752.1" y="526.6" font-size="13.3" fill="#231f20" font-weight="normal" textLength="6.7" lengthAdjust="spacingAndGlyphs" stroke="#231f20" stroke-width="0.3">3</text>
<text x="782.6" y="526.6" font-size="13.3" fill="#231f20" font-weight="normal" textLength="6.7" lengthAdjust="spacingAndGlyphs" stroke="#231f20" stroke-width="0.3">4</text>
<text x="807.1" y="526.6" font-size="13.3" fill="#231f20" font-weight="normal" textLength="6.7" lengthAdjust="spacingAndGlyphs" stroke="#231f20" stroke-width="0.3">5</text>
<text x="879.3" y="526.6" font-size="13.3" fill="#231f20" font-weight="normal" textLength="13.4" lengthAdjust="spacingAndGlyphs" stroke="#231f20" stroke-width="0.3">10</text>
<text x="955.7" y="526.6" font-size="13.3" fill="#231f20" font-weight="normal" textLength="13.4" lengthAdjust="spacingAndGlyphs" stroke="#231f20" stroke-width="0.3">20</text>
<text x="999.1" y="526.6" font-size="13.3" fill="#231f20" font-weight="normal" textLength="13.4" lengthAdjust="spacingAndGlyphs" stroke="#231f20" stroke-width="0.3">30</text>
<text x="1030.7" y="526.6" font-size="13.3" fill="#231f20" font-weight="normal" textLength="13.4" lengthAdjust="spacingAndGlyphs" stroke="#231f20" stroke-width="0.3">40</text>
<text x="1055.8" y="526.6" font-size="13.3" fill="#231f20" font-weight="normal" textLength="13.4" lengthAdjust="spacingAndGlyphs" stroke="#231f20" stroke-width="0.3">50</text>
<text x="1125.0" y="526.6" font-size="13.3" fill="#231f20" font-weight="normal" textLength="20.1" lengthAdjust="spacingAndGlyphs" stroke="#231f20" stroke-width="0.3">100</text>
<text x="646.3" y="544.6" font-size="13.3" fill="#231f20" font-weight="normal" textLength="13.4" lengthAdjust="spacingAndGlyphs" stroke="#231f20" stroke-width="0.3">20</text>
<text x="722.0" y="544.6" font-size="13.3" fill="#231f20" font-weight="normal" textLength="13.4" lengthAdjust="spacingAndGlyphs" stroke="#231f20" stroke-width="0.3">40</text>
<text x="747.0" y="544.6" font-size="13.3" fill="#231f20" font-weight="normal" textLength="13.4" lengthAdjust="spacingAndGlyphs" stroke="#231f20" stroke-width="0.3">50</text>
<text x="819.0" y="544.6" font-size="13.3" fill="#231f20" font-weight="normal" textLength="20.1" lengthAdjust="spacingAndGlyphs" stroke="#231f20" stroke-width="0.3">100</text>
<text x="863.6" y="544.6" font-size="13.3" fill="#231f20" font-weight="normal" textLength="20.1" lengthAdjust="spacingAndGlyphs" stroke="#231f20" stroke-width="0.3">150</text>
<text x="895.2" y="544.6" font-size="13.3" fill="#231f20" font-weight="normal" textLength="20.1" lengthAdjust="spacingAndGlyphs" stroke="#231f20" stroke-width="0.3">200</text>
<text x="940.0" y="544.6" font-size="13.3" fill="#231f20" font-weight="normal" textLength="20.1" lengthAdjust="spacingAndGlyphs" stroke="#231f20" stroke-width="0.3">300</text>
<text x="971.2" y="544.6" font-size="13.3" fill="#231f20" font-weight="normal" textLength="20.1" lengthAdjust="spacingAndGlyphs" stroke="#231f20" stroke-width="0.3">400</text>
<text x="996.2" y="544.6" font-size="13.3" fill="#231f20" font-weight="normal" textLength="20.1" lengthAdjust="spacingAndGlyphs" stroke="#231f20" stroke-width="0.3">500</text>
<text x="1068.6" y="544.6" font-size="13.3" fill="#231f20" font-weight="normal" textLength="26.8" lengthAdjust="spacingAndGlyphs" stroke="#231f20" stroke-width="0.3">1000</text>
<text x="1112.3" y="544.6" font-size="13.3" fill="#231f20" font-weight="normal" textLength="26.8" lengthAdjust="spacingAndGlyphs" stroke="#231f20" stroke-width="0.3">1500</text>
<text x="661.2" y="533.2" font-size="17.8" fill="#231f20" font-weight="bold" textLength="12.2" lengthAdjust="spacingAndGlyphs">Q</text>
<text x="677.3" y="528.7" font-size="14.2" fill="#231f20" stroke="#231f20" stroke-width="0.3" textLength="24" lengthAdjust="spacingAndGlyphs">m<tspan font-size="9.5" dy="-5.6">3</tspan><tspan dy="5.6">/h</tspan></text>
<text x="677.4" y="543.6" font-size="14.0" fill="#231f20" font-weight="normal" textLength="25.8" lengthAdjust="spacingAndGlyphs" stroke="#231f20" stroke-width="0.3">l/min</text>
<path d="M634.3 554.2H1138.5M653.00 548.5V554.2M697.39 548.5V554.2M728.89 548.5V554.2M753.32 548.5V554.2M773.28 548.5V554.2M790.16 548.5V554.2M804.78 548.5V554.2M817.67 548.5V554.2M829.21 548.5V554.2M873.60 548.5V554.2M905.10 548.5V554.2M929.53 548.5V554.2M949.49 548.5V554.2M966.37 548.5V554.2M980.99 548.5V554.2M993.89 548.5V554.2M1005.42 548.5V554.2M1025.38 548.5V554.2M1042.26 548.5V554.2M1056.88 548.5V554.2M1069.77 548.5V554.2M1081.31 548.5V554.2M1125.70 548.5V554.2" fill="none" stroke="#1f1f1f" stroke-width="1.2"/>
</g>
</g>
</svg>
</body></html>
